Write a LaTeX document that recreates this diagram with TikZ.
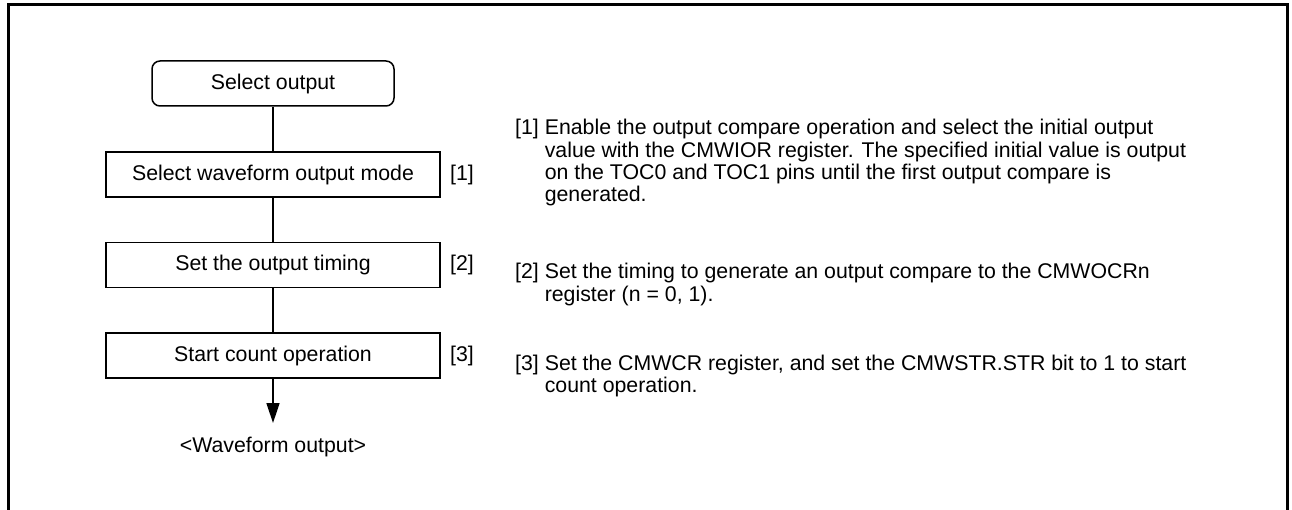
\documentclass[tikz,border=0pt]{standalone}
\usepackage{fontspec}
\setmainfont{Liberation Sans}
\usetikzlibrary{arrows.meta}
\begin{document}
\begin{tikzpicture}[x=1pt,y=-1pt,
  every node/.style={font=\fontsize{21.3}{22}\selectfont, inner sep=0pt},
  stepbox/.style={draw, line width=1.5pt, minimum width=334pt, minimum height=45pt},
  startbox/.style={draw, line width=1.5pt, rounded corners=8pt, minimum width=242pt, minimum height=45pt},
  conn/.style={line width=1.5pt},
  lbl/.style={anchor=west},
  note/.style={anchor=base west}]
\useasboundingbox (0,0) rectangle (1292,510);
\draw[line width=3pt] (8,515) -- (8,5) -- (1287,5) -- (1287,515);

\node[startbox] (s0) at (273,83.5) {Select output};
\node[stepbox] (s1) at (273,174.5) {Select waveform output mode};
\node[stepbox] (s2) at (273,265) {Set the output timing};
\node[stepbox] (s3) at (273,355.5) {Start count operation};
\node (out) at (273,447) {<Waveform output>};
\coordinate (tip) at (273,423);

\draw[conn] (s0) -- (s1);
\draw[conn] (s1) -- (s2);
\draw[conn] (s2) -- (s3);
\draw[conn, -{Triangle[length=20pt,width=13pt]}] (s3) -- (tip);

\node[lbl] (l1) at (450,174.5) {[1]};
\node[lbl] (l2) at (450,265) {[2]};
\node[lbl] (l3) at (450,355.5) {[3]};

\node[note] (n1) at (515,135) {\begin{tabular}[t]{@{}l@{\ }l@{}}[1] & Enable the output compare operation and select the initial output\\
 & value with the CMWIOR register. The specified initial value is output\\
 & on the TOC0 and TOC1 pins until the first output compare is\\
 & generated.\end{tabular}};
\node[note] (n2) at (515,279) {\begin{tabular}[t]{@{}l@{\ }l@{}}[2] & Set the timing to generate an output compare to the CMWOCRn\\
 & register (n = 0, 1).\end{tabular}};
\node[note] (n3) at (515,370) {\begin{tabular}[t]{@{}l@{\ }l@{}}[3] & Set the CMWCR register, and set the CMWSTR.STR bit to 1 to start\\
 & count operation.\end{tabular}};
\end{tikzpicture}
\end{document}
